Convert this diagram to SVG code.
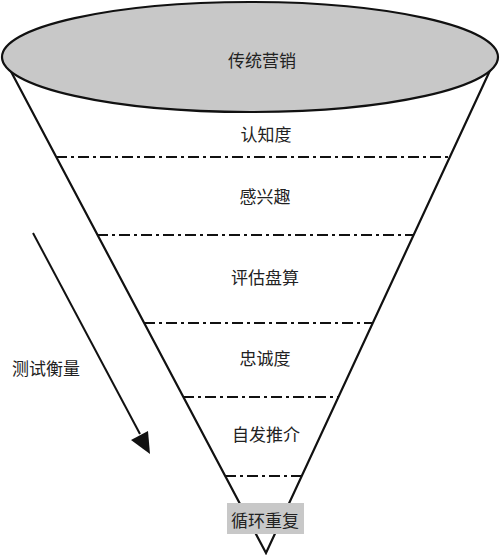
<svg xmlns="http://www.w3.org/2000/svg" width="500" height="555" viewBox="0 0 500 555">
<defs>
<style>
.t{font-family:"Noto Sans CJK SC","Noto Sans",sans-serif;font-size:17px;fill:#222;text-anchor:middle;dominant-baseline:central}
.cone{stroke:#111;stroke-width:2.2;fill:none}
.dash{stroke:#111;stroke-width:2;stroke-dasharray:11 4 3 4;fill:none}
</style>
</defs>
<rect width="500" height="555" fill="#fff"/>
<g id="cone">
<path class="cone" d="M7,64 L266,553 L493,64"/>
</g>
<g id="connectors">
<line class="dash" x1="56" y1="157" x2="450" y2="157"/>
<line class="dash" x1="97" y1="235" x2="414" y2="235"/>
<line class="dash" x1="144" y1="323" x2="373" y2="323"/>
<line class="dash" x1="183" y1="397" x2="339" y2="397"/>
<line class="dash" x1="225" y1="476" x2="302" y2="476"/>
<line x1="33" y1="233" x2="140" y2="434" stroke="#111" stroke-width="2"/>
<path d="M131,440 L150,454 L148,431 Z" fill="#111"/>
</g>
<g id="top">
<ellipse cx="250" cy="57" rx="248" ry="55" fill="#c8c8c8" stroke="#111" stroke-width="2.2"/>
<text class="t" x="262" y="59">传统营销</text>
</g>
<g id="n1"><text class="t" x="266" y="133">认知度</text></g>
<g id="n2"><text class="t" x="265" y="195">感兴趣</text></g>
<g id="n3"><text class="t" x="265" y="276">评估盘算</text></g>
<g id="n4"><text class="t" x="265" y="357">忠诚度</text></g>
<g id="n5"><text class="t" x="266" y="433">自发推介</text></g>
<g id="n6">
<rect x="227" y="503" width="77" height="31" fill="#c8c8c8"/>
<text class="t" x="265" y="519">循环重复</text>
</g>
<g id="side"><text class="t" x="46" y="367">测试衡量</text></g>
</svg>
